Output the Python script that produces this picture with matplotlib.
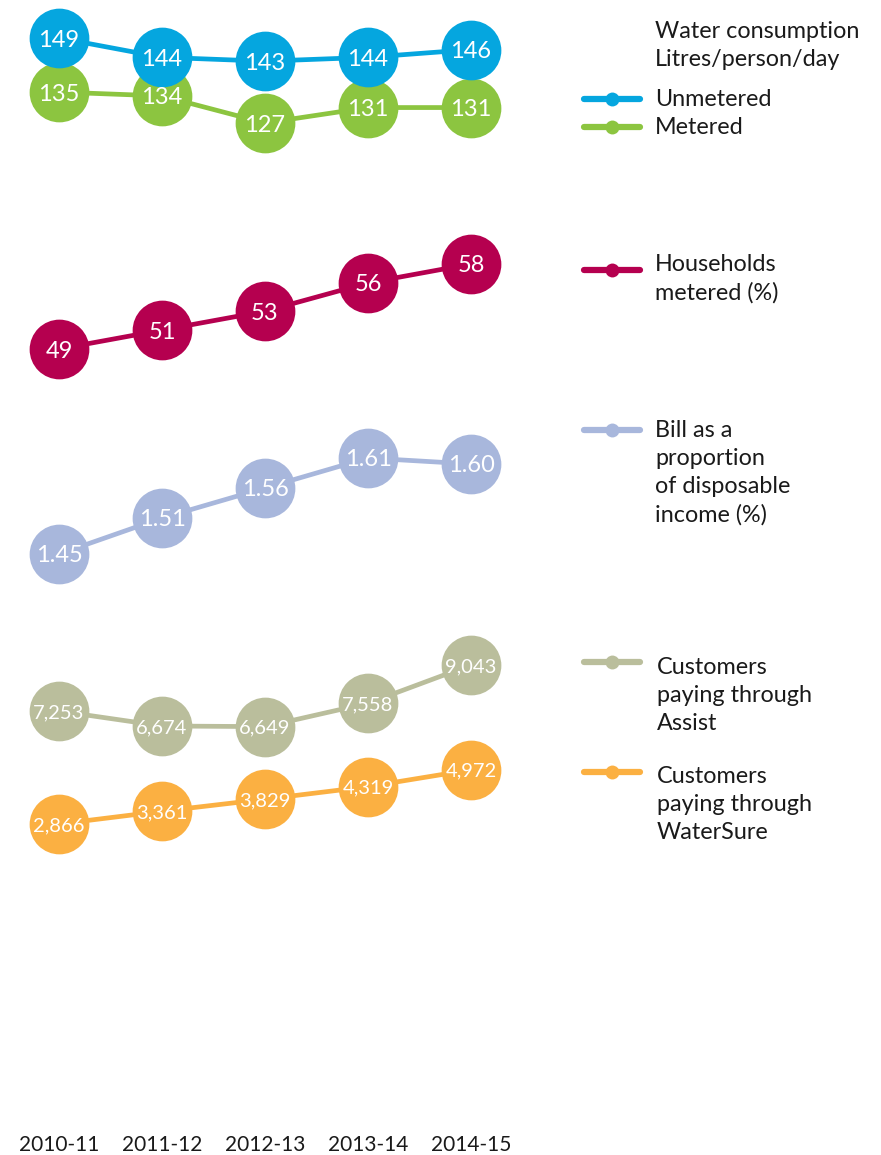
import matplotlib
matplotlib.use("Agg")
import matplotlib.pyplot as plt
from matplotlib.lines import Line2D
from matplotlib.transforms import blended_transform_factory

plt.rcParams['font.family'] = ['Lato', 'DejaVu Sans']

years = ['2010-11', '2011-12', '2012-13', '2013-14', '2014-15']
unmetered = [149, 144, 143, 144, 146]
metered = [135, 134, 127, 131, 131]
households = [49, 51, 53, 56, 58]
bill = [1.45, 1.51, 1.56, 1.61, 1.60]
assist = [7253, 6674, 6649, 7558, 9043]
watersure = [2866, 3361, 3829, 4319, 4972]

blue = '#05a6df'
green = '#8cc540'
crimson = '#b5004f'
lavender = '#a8b7dc'
sage = '#babe9c'
orange = '#fbb042'
ink = '#1a1a1a'

W, H = 881, 1155
fig = plt.figure(figsize=(W / 100, H / 100), dpi=100)


def fx(px):
    return px / W


def fy(py):
    return 1 - py / H


def band_axes(v_hi, y_hi, v_lo, y_lo):
    # full-figure axes whose y scale puts v_hi at pixel y_hi and v_lo at y_lo
    ax = fig.add_axes([0, 0, 1, 1])
    ax.set_axis_off()
    ax.patch.set_alpha(0)
    k = (y_lo - y_hi) / (v_hi - v_lo)
    ax.set_xlim(-59 / 103, (W - 59) / 103)
    ax.set_ylim(v_hi - (H - y_hi) / k, v_hi + y_hi / k)
    return ax


def draw_series(ax, vals, color, fmt, size):
    xs = range(len(vals))
    ax.plot(xs, vals, color=color, lw=3.4, marker='o', ms=43,
            mec='none', solid_capstyle='round')
    for x, v in zip(xs, vals):
        ax.text(x, v, fmt.format(v), color='white', fontsize=size,
                ha='center', va='center_baseline', zorder=5)


ax1 = band_axes(149, 38, 127, 123)
draw_series(ax1, metered, green, '{:d}', 17)
draw_series(ax1, unmetered, blue, '{:d}', 17)

ax2 = band_axes(58, 264, 49, 349)
draw_series(ax2, households, crimson, '{:d}', 17)

ax3 = band_axes(1.61, 458, 1.45, 554)
draw_series(ax3, bill, lavender, '{:.2f}', 17)

ax4 = band_axes(9043, 665, 2866, 824)
draw_series(ax4, assist, sage, '{:,}', 14.5)
draw_series(ax4, watersure, orange, '{:,}', 14.5)

# year labels along the bottom
tr = blended_transform_factory(ax1.transData, fig.transFigure)
for i, yr in enumerate(years):
    ax1.text(i, fy(1151), yr, transform=tr, ha='center', va='baseline',
             fontsize=15, color=ink)

# legend, drawn by hand on the right; text y is the first line's baseline
cap = 17
fig.text(fx(655), fy(38 - cap), 'Water consumption\nLitres/person/day',
         fontsize=16.8, color=ink, va='top', linespacing=1.4)

legend_items = [
    (unmetered, blue, 'Unmetered', 99, 106, 655),
    (metered, green, 'Metered', 127, 134, 655),
    (households, crimson, 'Households\nmetered (%)', 270, 271, 655),
    (bill, lavender, 'Bill as a\nproportion\nof disposable\nincome (%)', 430, 437, 655),
    (assist, sage, 'Customers\npaying through\nAssist', 662, 674, 657),
    (watersure, orange, 'Customers\npaying through\nWaterSure', 772, 783, 657),
]
for _, color, label, ly, ty, tx in legend_items:
    fig.add_artist(Line2D([fx(584), fx(640)], [fy(ly), fy(ly)], color=color,
                          lw=4.5, solid_capstyle='round'))
    fig.add_artist(Line2D([fx(612)], [fy(ly)], color=color, marker='o',
                          ms=10, mec='none'))
    fig.text(fx(tx), fy(ty - cap), label, fontsize=16.8, color=ink, va='top',
             linespacing=1.4)

fig.savefig('out.png', dpi=100)
